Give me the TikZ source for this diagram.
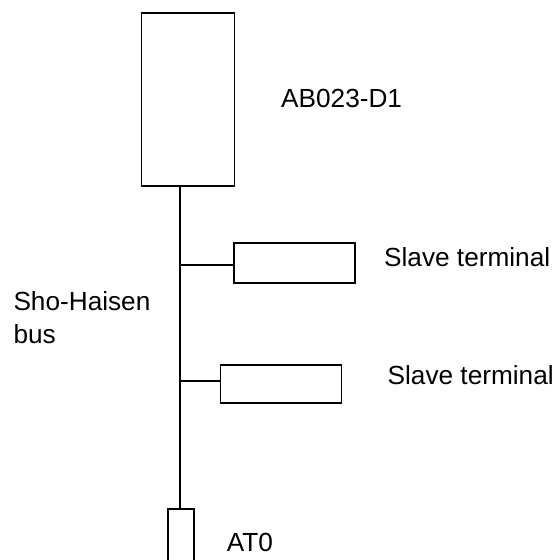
\documentclass[tikz,border=0pt]{standalone}
\usepackage{fontspec}
\setmainfont{Liberation Sans}
\begin{document}
\begin{tikzpicture}[x=1pt,y=-1pt,
  box/.style={draw=black,line width=1.8pt,fill=white,inner sep=0pt,rectangle},
  wire/.style={draw=black,line width=1.8pt},
  lbl/.style={inner sep=0pt,anchor=base west,font=\fontsize{26.2}{33}\selectfont}]
\clip (0,0) rectangle (556,560);
\fill[white] (0,0) rectangle (556,560);
% boxes
\node[box,minimum width=93pt,minimum height=173pt] (big) at (188,99.5) {};
\node[box,minimum width=121pt,minimum height=39.4pt] (s1) at (294.5,263) {};
\node[box,minimum width=121pt,minimum height=38pt] (s2) at (281,384.3) {};
\node[box,minimum width=26pt,minimum height=91.4pt] (at0) at (181,555) {};
% bus junctions
\coordinate (j1) at (180,264.7);
\coordinate (j2) at (180,381);
\draw[wire] (big.south -| j1) -- (at0.north -| j1);
\draw[wire] (j1) -- (s1.west |- j1);
\draw[wire] (j2) -- (s2.west |- j2);
% labels
\node[lbl] (tbig) at (281,107.3) {AB023-D1};
\node[lbl] (ts1) at (384,266.7) {Slave terminal};
\node[lbl] (ts2) at (387.5,384.3) {Slave terminal};
\node[lbl] (tbus1) at (13.3,310.5) {Sho-Haisen};
\node[lbl] (tbus2) at (13.3,343.5) {bus};
\node[lbl] (tat0) at (226.7,551.7) {AT0};
\end{tikzpicture}
\end{document}
